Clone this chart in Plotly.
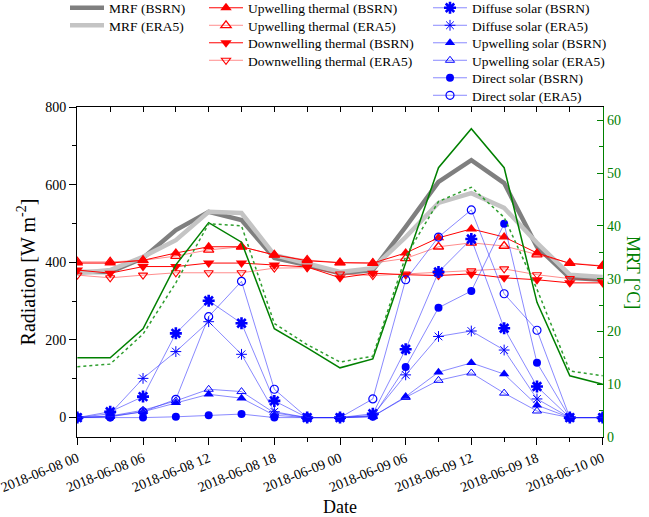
import plotly.graph_objects as go

times = ["2018-06-08 00:00", "2018-06-08 03:00", "2018-06-08 06:00", "2018-06-08 09:00",
         "2018-06-08 12:00", "2018-06-08 15:00", "2018-06-08 18:00", "2018-06-08 21:00",
         "2018-06-09 00:00", "2018-06-09 03:00", "2018-06-09 06:00", "2018-06-09 09:00",
         "2018-06-09 12:00", "2018-06-09 15:00", "2018-06-09 18:00", "2018-06-09 21:00",
         "2018-06-10 00:00"]

mrf_bsrn = [375, 375, 411, 483, 530, 509, 411, 393, 372, 380, 491, 607, 663, 604, 440, 360, 355]
mrf_era5 = [372, 380, 414, 457, 530, 527, 419, 398, 375, 385, 465, 553, 578, 540, 450, 368, 362]

up_th_bsrn = [398, 398, 405, 424, 440, 440, 419, 404, 399, 398, 424, 463, 486, 465, 424, 397, 390]
up_th_era5 = [401, 401, 405, 416, 432, 440, 419, 406, 399, 398, 410, 440, 450, 442, 420, 398, 391]
dn_th_bsrn = [380, 372, 389, 389, 398, 398, 393, 388, 360, 372, 368, 366, 370, 360, 355, 347, 347]
dn_th_era5 = [367, 360, 367, 373, 373, 373, 385, 386, 370, 366, 370, 374, 378, 383, 368, 358, 352]

dif_bsrn = [0, 15, 54, 217, 301, 243, 43, 0, 0, 10, 176, 375, 460, 230, 80, 0, 0]
dif_era5 = [0, 10, 101, 170, 247, 163, 15, 0, 0, 6, 110, 209, 223, 174, 48, 0, 0]
ups_bsrn = [0, 3, 15, 38, 60, 50, 6, 0, 0, 3, 54, 117, 141, 112, 32, 0, 0]
ups_era5 = [0, 4, 19, 43, 73, 67, 12, 0, 0, 3, 52, 96, 115, 63, 17, 0, 0]
dir_bsrn = [0, 0, 0, 2, 6, 9, 0, 0, 0, 2, 130, 283, 326, 499, 141, 0, 0]
dir_era5 = [0, 2, 15, 47, 260, 351, 73, 0, 0, 48, 355, 465, 535, 319, 225, 0, 0]

mrt_bsrn = [15.0, 15.0, 20.5, 32.6, 40.6, 36.9, 20.5, 16.9, 13.1, 14.8, 33.0, 51.0, 58.4, 51.0, 25.5, 11.6, 10.0]
mrt_era5 = [13.3, 13.8, 19.5, 29.2, 40.4, 40.0, 21.5, 17.5, 14.2, 15.3, 34.2, 44.6, 47.3, 41.6, 28.0, 12.5, 11.6]

FONT = "Liberation Serif"
RED = "#ff0000"
RED_L = "rgba(255,0,0,0.45)"
BLUE = "#0000ff"
BLUE_L = "rgba(40,40,255,0.55)"
GREEN = "#008000"

# plot-area geometry (pixels)
W, H = 649, 517
ML, MR, MT, MB = 77, 46, 107, 80
PW, PH = W - ML - MR, H - MT - MB

fig = go.Figure()

def add(y, name, legend=None, line=None, marker=None, mode="lines+markers", yaxis="y"):
    kw = dict(x=times, y=y, name=name, mode=mode, line=line, marker=marker, yaxis=yaxis)
    if legend is None:
        kw["showlegend"] = False
    else:
        kw["legend"] = legend
    fig.add_trace(go.Scatter(**kw))

# MRT (right axis)
add(mrt_bsrn, "MRT (BSRN)", None, dict(color=GREEN, width=1.5), mode="lines", yaxis="y2")
add(mrt_era5, "MRT (ERA5)", None, dict(color="#2e9e2e", width=1.5, dash="dot"), mode="lines", yaxis="y2")

add(mrf_bsrn, "MRF (BSRN)", "legend", dict(color="#7f7f7f", width=4.5), mode="lines")
add(mrf_era5, "MRF (ERA5)", "legend2", dict(color="#c4c4c4", width=4.5), mode="lines")

add(up_th_bsrn, "Upwelling thermal (BSRN)", "legend3", dict(color=RED, width=1),
    dict(symbol="triangle-up", size=10, color=RED))
add(up_th_era5, "Upwelling thermal (ERA5)", "legend4", dict(color=RED_L, width=1),
    dict(symbol="triangle-up-open", size=9, color=RED, line=dict(width=1.3)))
add(dn_th_bsrn, "Downwelling thermal (BSRN)", "legend5", dict(color=RED, width=1),
    dict(symbol="triangle-down", size=10, color=RED))
add(dn_th_era5, "Downwelling thermal (ERA5)", "legend6", dict(color=RED_L, width=1),
    dict(symbol="triangle-down-open", size=8, color=RED, line=dict(width=1.1)))

add(dif_bsrn, "Diffuse solar (BSRN)", "legend7", dict(color=BLUE_L, width=1),
    dict(symbol="asterisk-open", size=10, color=BLUE, line=dict(width=2.6, color=BLUE)))
add(dif_era5, "Diffuse solar (ERA5)", "legend8", dict(color=BLUE_L, width=1),
    dict(symbol="asterisk-open", size=9, color=BLUE, line=dict(width=1, color=BLUE)))
add(ups_bsrn, "Upwelling solar (BSRN)", "legend9", dict(color=BLUE_L, width=1),
    dict(symbol="triangle-up", size=9, color=BLUE))
add(ups_era5, "Upwelling solar (ERA5)", "legend10", dict(color=BLUE_L, width=1),
    dict(symbol="triangle-up-open", size=8, color=BLUE, line=dict(width=1)))
add(dir_bsrn, "Direct solar (BSRN)", "legend11", dict(color=BLUE_L, width=1),
    dict(symbol="circle", size=8, color=BLUE))
add(dir_era5, "Direct solar (ERA5)", "legend12", dict(color=BLUE_L, width=1),
    dict(symbol="circle-open", size=8, color=BLUE, line=dict(width=1.2)))

# invisible trace to carry the top tick axis
fig.add_trace(go.Scatter(x=[times[0]], y=[0], xaxis="x2", mode="markers",
                         marker=dict(opacity=0), showlegend=False, hoverinfo="skip"))

# legend entries: column left edge (px) and row centre (px)
col_left = [65, 204, 428]
row_centre = [8, 25.5, 43, 60.5, 78, 95.5]
legend_slots = [(0, 0), (0, 1),
                (1, 0), (1, 1), (1, 2), (1, 3),
                (2, 0), (2, 1), (2, 2), (2, 3), (2, 4), (2, 5)]

legends = {}
for k, (c, r) in enumerate(legend_slots):
    key = "legend" if k == 0 else f"legend{k + 1}"
    legends[key] = dict(
        x=(col_left[c] - ML) / PW, y=(H - MB - row_centre[r]) / PH,
        xanchor="left", yanchor="middle",
        font=dict(family=FONT, size=13.5, color="black"), bgcolor="rgba(0,0,0,0)",
        itemwidth=34, borderwidth=0)

x_range = ["2018-06-07 23:58", "2018-06-10 00:02"]

fig.update_layout(
    width=W, height=H,
    margin=dict(l=ML, r=MR, t=MT, b=MB, autoexpand=False),
    paper_bgcolor="white", plot_bgcolor="white",
    font=dict(family=FONT, size=14, color="black"),
    **legends,
    xaxis=dict(type="date", range=x_range,
               tickformat="%Y-%m-%d %H", dtick=6 * 3600 * 1000, tick0=times[0],
               tickangle=-22, ticks="outside", ticklen=7, tickcolor="black",
               minor=dict(dtick=3 * 3600 * 1000, ticks="outside", ticklen=4, tickcolor="black"),
               showline=True, linecolor="black", linewidth=1, mirror=True,
               showgrid=False, zeroline=False, automargin=False,
               ticklabeloverflow="allow",
               tickfont=dict(family=FONT, size=14),
               title=dict(text="Date", font=dict(family=FONT, size=18), standoff=12)),
    xaxis2=dict(type="date", range=x_range, overlaying="x", side="top",
                dtick=3 * 3600 * 1000, tick0=times[0], ticks="inside", ticklen=5,
                tickcolor="black", showticklabels=False, showgrid=False, zeroline=False,
                showline=False),
    yaxis=dict(range=[-50, 800], dtick=200, tick0=0, ticks="outside", ticklen=7,
               tickcolor="black",
               minor=dict(dtick=100, ticks="outside", ticklen=4, tickcolor="black"),
               showline=True, linecolor="black", linewidth=1, automargin=False,
               showgrid=False, zeroline=False, tickfont=dict(family=FONT, size=14),
               title=dict(text="Radiation [W m<sup>-2</sup>]", font=dict(family=FONT, size=20),
                          standoff=4)),
    yaxis2=dict(range=[0, 62.5], overlaying="y", side="right", dtick=10, tick0=0,
                ticks="inside", ticklen=6, tickcolor=GREEN,
                minor=dict(dtick=5, ticks="inside", ticklen=4, tickcolor=GREEN),
                showline=True, linecolor=GREEN, linewidth=1.2, automargin=False,
                showgrid=False, zeroline=False,
                tickfont=dict(family=FONT, size=14, color=GREEN)),
    annotations=[dict(text="MRT [°C]", xref="paper", yref="paper", x=1.08, y=0.5,
                      textangle=90, showarrow=False,
                      font=dict(family=FONT, size=18, color=GREEN))],
)

fig.write_html("out.html", config={"displayModeBar": False},
               post_script="document.body.style.margin='0';")
